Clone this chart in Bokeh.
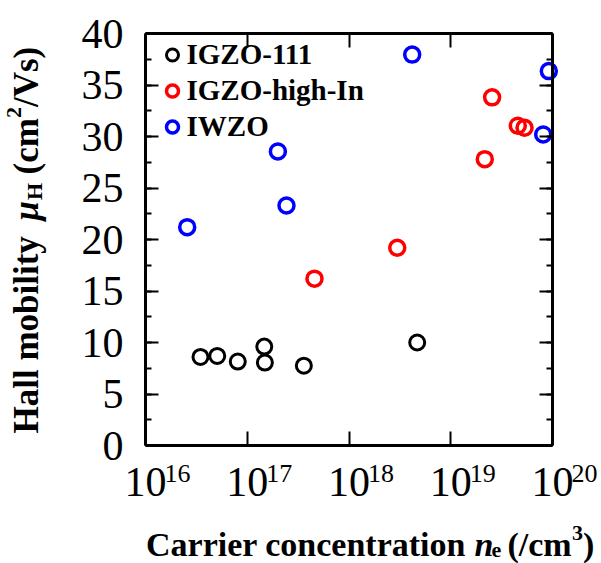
import math
from bokeh.plotting import figure
from bokeh.models import (LogAxis, LinearAxis, FixedTicker, SingleIntervalTicker,
                          CustomJSTickFormatter, Legend, LegendItem, Label)
from bokeh.embed import file_html
from bokeh.resources import INLINE

# ---- data ----
igzo111_n = [3.47e16, 5.07e16, 8.07e16, 1.47e17, 1.49e17, 3.60e17, 4.68e18]
igzo111_mu = [8.6, 8.7, 8.15, 9.6, 8.05, 7.75, 10.0]

igzo_highin_n = [4.58e17, 2.98e18, 2.16e19, 2.55e19, 4.56e19, 5.31e19]
igzo_highin_mu = [16.2, 19.2, 27.8, 33.8, 31.05, 30.85]

iwzo_n = [2.57e16, 2.0e17, 2.43e17, 4.18e18, 8.1e19, 9.2e19]
iwzo_mu = [21.2, 28.55, 23.3, 37.95, 30.2, 36.35]

series_names = ["IGZO-111", "IGZO-high-In", "IWZO"]
series_colors = ["#000000", "#ff0000", "#0000ff"]

x_ticks = [1e16, 1e17, 1e18, 1e19, 1e20]
x_tick_exponents = ["16", "17", "18", "19", "20"]
x_lo, x_hi = 1e16, 1e20
y_lo, y_hi = 0, 40

FONT = "Liberation Serif"

# ---- layout: the whole canvas is the frame; the visible box is drawn by
# four axes fixed at the edges of the data box ----
W, H = 601, 563
BOX_L, BOX_R, BOX_T, BOX_B = 145, 552, 33, 445
dec_px = (BOX_R - BOX_L) / math.log10(x_hi / x_lo)
unit_px = (BOX_B - BOX_T) / (y_hi - y_lo)
xr = (10 ** (math.log10(x_lo) - BOX_L / dec_px),
      10 ** (math.log10(x_hi) + (W - BOX_R) / dec_px))
yr = (y_lo - (H - BOX_B) / unit_px, y_hi + BOX_T / unit_px)

p = figure(width=W, height=H, x_axis_type="log", x_range=xr, y_range=yr,
           output_backend="svg", toolbar_location=None,
           min_border=0)
p.xgrid.visible = False
p.ygrid.visible = False
p.outline_line_color = None
p.background_fill_color = "white"
p.border_fill_color = "white"

# scatter series
renderers = []
for xs, ys, c, lw in [(igzo111_n, igzo111_mu, series_colors[0], 3),
                      (igzo_highin_n, igzo_highin_mu, series_colors[1], 3.5),
                      (iwzo_n, iwzo_mu, series_colors[2], 3.5)]:
    r = p.scatter(xs, ys, marker="circle", size=15, fill_color=None,
                  line_color=c, line_width=lw)
    renderers.append(r)

def style_x(ax, labels, loc):
    ax.fixed_location = loc
    ax.bounds = (x_lo, x_hi)
    ax.ticker = FixedTicker(ticks=x_ticks, minor_ticks=[])
    ax.axis_line_width = 3
    ax.major_tick_in = 14
    ax.major_tick_out = 0
    ax.major_tick_line_width = 2
    ax.minor_tick_line_color = None
    if labels:
        ax.formatter = CustomJSTickFormatter(code="return '10'")
        ax.major_label_text_font = FONT
        ax.major_label_text_font_size = "42px"
        ax.major_label_standoff = 22
        ax.major_label_text_color = "black"
    else:
        ax.formatter = CustomJSTickFormatter(code="return ''")
        ax.major_label_text_font_size = "1px"

def style_y(ax, labels, loc):
    ax.fixed_location = loc
    ax.bounds = (y_lo, y_hi)
    ax.ticker = SingleIntervalTicker(interval=5, num_minor_ticks=2)
    ax.axis_line_width = 3
    ax.major_tick_in = 13
    ax.major_tick_out = 0
    ax.minor_tick_in = 6
    ax.minor_tick_out = 0
    ax.major_tick_line_width = 2
    ax.minor_tick_line_width = 2
    if labels:
        ax.major_label_text_font = FONT
        ax.major_label_text_font_size = "42px"
        ax.major_label_standoff = 22
        ax.major_label_text_color = "black"
    else:
        ax.formatter = CustomJSTickFormatter(code="return ''")
        ax.major_label_text_font_size = "1px"

style_x(p.xaxis[0], True, y_lo)
style_y(p.yaxis[0], True, x_lo)
top_ax = LogAxis()
style_x(top_ax, False, y_hi)
p.add_layout(top_ax, "above")
right_ax = LinearAxis()
style_y(right_ax, False, x_hi)
p.add_layout(right_ax, "right")

# exponent labels on x ticks
for t, e in zip(x_ticks, x_tick_exponents):
    p.add_layout(Label(x=t, y=y_lo, x_offset=19, y_offset=-28, text=e,
                       text_font=FONT, text_font_size="26px",
                       text_align="left", text_baseline="alphabetic",
                       text_color="black"))

def lab(text, xo, yo, size, style, angle=0.0):
    p.add_layout(Label(x=x_lo, y=y_lo, x_offset=xo, y_offset=yo, text=text,
                       text_font=FONT, text_font_size=size,
                       text_font_style=style, angle=angle,
                       text_align="left", text_baseline="alphabetic",
                       text_color="black"))

# x axis title pieces
lab("Carrier concentration", 0.5, -98.5, "34px", "bold")
lab("n", 329, -98.5, "34px", "bold italic")
lab("e", 346, -104, "22px", "bold")
lab("(/cm", 362, -98.5, "34px", "bold")
lab("3", 426.5, -87.5, "22px", "bold")
lab(")", 437.5, -98.5, "34px", "bold")

# y axis title pieces (rotated)
A = math.pi / 2
lab("Hall mobility", -119, 12, "35px", "bold", A)
lab("\u03bc", -119, 225, "35px", "bold italic", A)
lab("H", -111, 245.5, "22px", "bold", A)
lab("(cm", -119, 271, "35px", "bold", A)
lab("2", -132, 327.5, "22px", "bold", A)
lab("/Vs)", -119, 338.5, "35px", "bold", A)

# legend (bottom-left corner given in px from the frame's bottom-left)
legend = Legend(items=[LegendItem(label=n, renderers=[r])
                       for n, r in zip(series_names, renderers)],
                location=(156.5, 420), margin=0, padding=8,
                glyph_width=30, glyph_height=33, label_height=33,
                spacing=3, label_standoff=-5,
                label_text_font=FONT, label_text_font_style="bold",
                label_text_font_size="29px", label_text_color="black",
                background_fill_alpha=0, border_line_color=None)
p.add_layout(legend)

open("out.html", "w").write(file_html(p, INLINE))
